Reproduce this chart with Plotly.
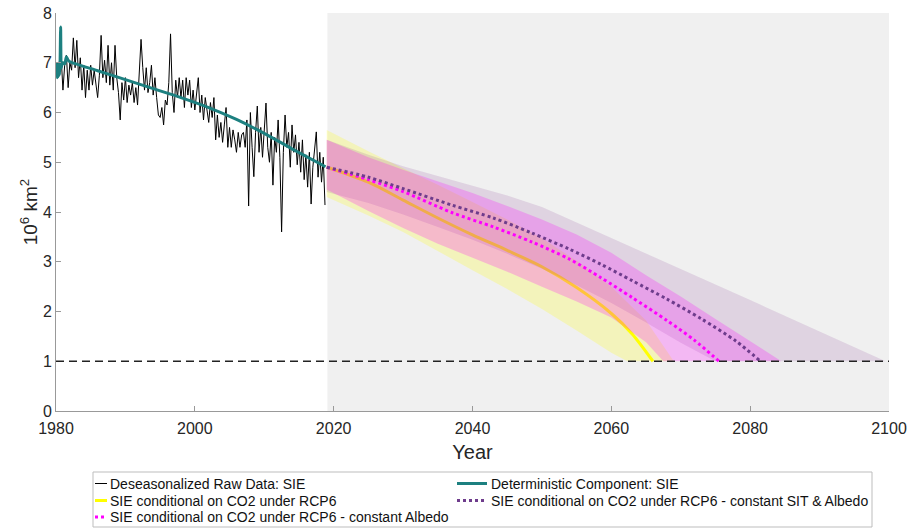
import plotly.graph_objects as go

# ---------------- data ----------------
RAW_START = 1980.0
RAW_STEP = 0.25
raw_sie = [
    6.9, 7.0, 6.75, 7.1,
    6.45, 6.95, 7.15, 6.5,
    7.0, 6.85, 7.5, 6.9,
    7.45, 6.7, 7.1, 6.45,
    6.95, 6.3, 6.85, 6.45,
    6.95, 6.55, 6.85, 6.5,
    6.3, 6.75, 7.55, 6.7,
    7.05, 6.6, 7.35, 6.55,
    7.0, 6.45, 7.35, 6.7,
    6.4, 5.85, 6.6, 6.25,
    6.7, 6.2, 6.55, 6.35,
    6.6, 6.2, 6.5, 6.15,
    6.75, 7.47, 6.9, 6.45,
    6.9, 6.4, 6.6, 6.95,
    6.35, 6.7, 6.3, 5.95,
    5.9, 6.1, 5.75, 6.25,
    6.15, 6.6, 7.58, 6.4,
    6.0, 6.65, 6.3, 6.7,
    6.3, 6.65, 6.1, 6.7,
    6.35, 6.65, 6.1, 6.45,
    6.05, 6.45, 6.7, 6.0,
    6.35, 5.85, 6.3, 6.05,
    5.8, 6.2, 5.9, 6.3,
    5.45, 5.95, 5.5, 5.8,
    5.4, 5.75, 6.1, 5.3,
    5.7, 5.3, 5.65, 5.45,
    5.2, 5.6, 5.3, 5.55,
    5.6, 5.3, 5.85, 4.12,
    6.0, 5.3, 4.71, 5.6,
    6.13, 5.2, 5.7, 5.1,
    5.75, 6.19, 5.3, 5.0,
    5.6, 4.54, 5.5, 5.2,
    5.85, 5.1, 3.6, 5.2,
    5.95, 5.3, 5.6, 4.9,
    5.75, 5.2, 5.55, 4.95,
    5.4, 4.8, 5.45, 4.65,
    5.15, 4.5, 5.2, 4.16,
    4.9, 5.35, 5.61, 4.7,
    5.2, 4.6, 5.1, 4.14,
]
raw_years = [RAW_START + RAW_STEP * i for i in range(len(raw_sie))]

det_years = [1980.0, 1980.08, 1980.17, 1980.25, 1980.33, 1980.42, 1980.5, 1980.58,
             1980.67, 1980.75, 1980.83, 1981.0, 1981.25, 1981.5, 1981.75, 1982.0,
             1986, 1990, 1994, 1998, 2002, 2006, 2010, 2014, 2018.83]
det_sie = [6.72, 6.98, 6.7, 6.95, 6.72, 7.0, 6.75, 6.98,
           7.72, 6.9, 6.95, 7.0, 6.98, 7.12, 7.05, 7.02,
           6.84, 6.66, 6.48, 6.3, 6.1, 5.86, 5.58, 5.27, 4.91]

# projections (central lines)
years_rcp6 = [2019, 2025, 2030, 2035, 2040, 2045, 2050, 2055, 2060, 2063, 2066]
sie_rcp6 = [4.9, 4.6, 4.24, 3.88, 3.54, 3.23, 2.9, 2.48, 1.96, 1.55, 1.0]

years_albedo = [2019, 2025, 2030, 2037, 2043, 2048.5, 2054, 2058.5, 2063, 2068, 2072, 2075.5]
sie_albedo = [4.9, 4.65, 4.41, 3.99, 3.7, 3.4, 3.05, 2.68, 2.28, 1.82, 1.42, 1.0]

years_sit = [2019, 2025, 2030, 2037, 2043, 2048.5, 2054, 2058.5, 2063, 2068, 2073, 2078, 2081.5]
sie_sit = [4.9, 4.7, 4.47, 4.14, 3.88, 3.58, 3.25, 2.95, 2.62, 2.25, 1.85, 1.4, 1.0]

# uncertainty bands
rcp6_up_years = [2019, 2025, 2030, 2035, 2040, 2045, 2050, 2055, 2060, 2065, 2069]
rcp6_up = [5.65, 5.22, 4.88, 4.55, 4.2, 3.85, 3.47, 3.02, 2.5, 1.82, 1.0]
rcp6_lo_years = [2019, 2025, 2030, 2035, 2040, 2045, 2050, 2055, 2060, 2062.3]
rcp6_lo = [4.3, 3.93, 3.6, 3.22, 2.83, 2.45, 2.05, 1.62, 1.17, 1.0]

albedo_up_years = [2019, 2025, 2030, 2035, 2040, 2045, 2050, 2055, 2060, 2065, 2070, 2075, 2080, 2084.5]
albedo_up = [5.45, 5.1, 4.85, 4.62, 4.38, 4.12, 3.85, 3.55, 3.18, 2.73, 2.3, 1.85, 1.4, 1.0]
albedo_lo_years = [2019, 2025, 2030, 2035, 2040, 2045, 2050, 2055, 2060, 2065, 2067.5]
albedo_lo = [4.45, 4.02, 3.68, 3.36, 3.08, 2.8, 2.5, 2.2, 1.88, 1.38, 1.0]

sit_up_years = [2019, 2025, 2030, 2035, 2040, 2045, 2050, 2060, 2070, 2080, 2090, 2099.5]
sit_up = [5.45, 5.15, 4.92, 4.72, 4.52, 4.33, 4.1, 3.48, 2.85, 2.23, 1.6, 1.0]
sit_lo_years = [2019, 2025, 2030, 2035, 2040, 2045, 2050, 2055, 2060, 2065, 2070, 2075]
sit_lo = [4.4, 4.18, 3.95, 3.7, 3.44, 3.16, 2.86, 2.53, 2.17, 1.78, 1.37, 1.0]

PROJ_START = 2019.1
X_RANGE = [1980, 2100]
Y_RANGE = [0, 8]
THRESHOLD = 1.0
x_ticks = [1980, 2000, 2020, 2040, 2060, 2080, 2100]
y_ticks = [0, 1, 2, 3, 4, 5, 6, 7, 8]

NAME_RAW = "Deseasonalized Raw Data: SIE"
NAME_DET = "Deterministic Component: SIE"
NAME_RCP6 = "SIE conditional on CO2 under RCP6"
NAME_SIT = "SIE conditional on CO2 under RCP6 - constant SIT & Albedo"
NAME_ALB = "SIE conditional on CO2 under RCP6 - constant Albedo"

# ---------------- styles ----------------
FONT = "Liberation Sans, Arial, Helvetica, sans-serif"
C_RAW = "black"
C_DET = "#1d8080"
C_RCP6 = "#ffff00"
C_ALB = "#ff00ff"
C_SIT = "#6e3c8c"

W, H = 914, 530
ML, MR, MT, MB = 56, 25, 13, 119
PW, PH = W - ML - MR, H - MT - MB


def px2paper(xp, yp):
    return (xp - ML) / PW, (H - MB - yp) / PH


fig = go.Figure()


def band(xu, yu, xl, yl, color):
    return go.Scatter(
        x=list(xu) + list(reversed(xl)),
        y=list(yu) + list(reversed(yl)),
        fill="toself", fillcolor=color, mode="lines",
        line=dict(width=0), hoverinfo="skip", showlegend=False,
    )


fig.add_trace(go.Scatter(x=raw_years, y=raw_sie, mode="lines",
                         line=dict(color=C_RAW, width=1), name=NAME_RAW))
fig.add_trace(go.Scatter(x=det_years, y=det_sie, mode="lines",
                         line=dict(color=C_DET, width=3, shape="spline", smoothing=0.6),
                         name=NAME_DET))

fig.add_trace(band(rcp6_up_years, rcp6_up, rcp6_lo_years, rcp6_lo, "rgba(255,255,0,0.22)"))
fig.add_trace(go.Scatter(x=years_rcp6, y=sie_rcp6, mode="lines",
                         line=dict(color=C_RCP6, width=3, shape="spline", smoothing=0.8),
                         name=NAME_RCP6))
fig.add_trace(band(sit_up_years, sit_up, sit_lo_years, sit_lo, "rgba(126,47,142,0.15)"))
fig.add_trace(band(albedo_up_years, albedo_up, albedo_lo_years, albedo_lo, "rgba(255,0,255,0.23)"))

fig.add_trace(go.Scatter(x=years_albedo, y=sie_albedo, mode="lines",
                         line=dict(color=C_ALB, width=3, dash="dot", shape="spline", smoothing=0.8),
                         name=NAME_ALB))
fig.add_trace(go.Scatter(x=years_sit, y=sie_sit, mode="lines",
                         line=dict(color=C_SIT, width=3, dash="dot", shape="spline", smoothing=0.8),
                         name=NAME_SIT))

# projection period background
fig.add_shape(type="rect", x0=PROJ_START, x1=X_RANGE[1], y0=Y_RANGE[0], y1=Y_RANGE[1],
              xref="x", yref="y", fillcolor="#f0f0f0", line=dict(width=0), layer="below")
# threshold
fig.add_shape(type="line", x0=X_RANGE[0], x1=X_RANGE[1], y0=THRESHOLD, y1=THRESHOLD,
              xref="x", yref="y", line=dict(color="#222222", width=1.6, dash="8px,5px"))

# ---------------- legend (boxed key below the axes) ----------------
bx0, by0 = px2paper(93, 472)
bx1, by1 = px2paper(872, 527)
fig.add_shape(type="rect", xref="paper", yref="paper", x0=bx0, x1=bx1, y0=by1, y1=by0,
              fillcolor="white", line=dict(color="#bdbdbd", width=1))

legend_items = [
    (NAME_RAW, C_RAW, 1, "solid", 0, 0),
    (NAME_DET, C_DET, 3, "solid", 1, 0),
    (NAME_RCP6, C_RCP6, 3, "solid", 0, 1),
    (NAME_SIT, C_SIT, 3, "dot", 1, 1),
    (NAME_ALB, C_ALB, 3, "dot", 0, 2),
]
col_sym = [(95, 107), (457, 487)]
col_text = [108, 489]
row_y = [483.5, 500.5, 517]
for name, color, width, dash, col, row in legend_items:
    sx0, sy = px2paper(col_sym[col][0], row_y[row])
    sx1, _ = px2paper(col_sym[col][1], row_y[row])
    fig.add_shape(type="line", xref="paper", yref="paper", x0=sx0, x1=sx1, y0=sy, y1=sy,
                  line=dict(color=color, width=width, dash=dash))
    tx, ty = px2paper(col_text[col], row_y[row])
    fig.add_annotation(text=name, xref="paper", yref="paper", x=tx, y=ty,
                       xanchor="left", yanchor="middle", showarrow=False,
                       font=dict(size=14, color="#111111", family=FONT))

fig.update_layout(
    width=W, height=H,
    margin=dict(l=ML, r=MR, t=MT, b=MB, autoexpand=False),
    paper_bgcolor="white", plot_bgcolor="white",
    font=dict(family=FONT, color="#262626"),
    showlegend=False,
    xaxis=dict(
        range=X_RANGE, tickvals=x_ticks, ticks="inside", ticklen=5,
        tickcolor="#999999", showline=True, linecolor="#999999", linewidth=1,
        showgrid=False, zeroline=False, tickfont=dict(size=16), automargin=False,
        ticklabelstandoff=3,
        title=dict(text="Year", font=dict(size=20), standoff=8),
    ),
    yaxis=dict(
        range=Y_RANGE, tickvals=y_ticks, ticks="inside", ticklen=5,
        tickcolor="#999999", showline=True, linecolor="#999999", linewidth=1,
        showgrid=False, zeroline=False, tickfont=dict(size=16), automargin=False,
        title=dict(text="10<sup>6</sup> km<sup>2</sup>", font=dict(size=19), standoff=0),
    ),
)

fig.write_html("out.html")
